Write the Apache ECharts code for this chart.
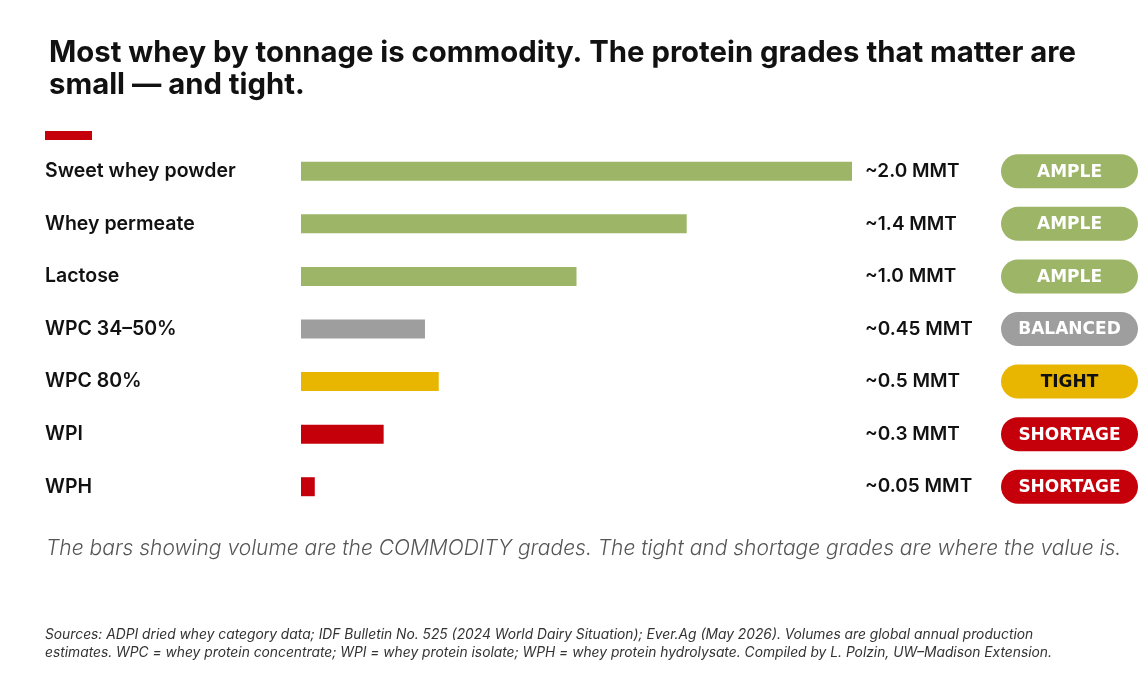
<!DOCTYPE html>
<html>
<head>
<meta charset="utf-8">
<script src="https://cdn.jsdelivr.net/npm/echarts@6/dist/echarts.min.js"></script>
<style>
  html, body { margin: 0; padding: 0; background: #fff; }
  #chart { width: 1148px; height: 678px; }
</style>
</head>
<body>
<div id="chart"></div>
<script>
// data
const categories = ["Sweet whey powder", "Whey permeate", "Lactose", "WPC 34–50%", "WPC 80%", "WPI", "WPH"];
const volumes = [2.0, 1.4, 1.0, 0.45, 0.5, 0.3, 0.05];
const volumeLabels = ["~2.0 MMT", "~1.4 MMT", "~1.0 MMT", "~0.45 MMT", "~0.5 MMT", "~0.3 MMT", "~0.05 MMT"];
const statuses = ["AMPLE", "AMPLE", "AMPLE", "BALANCED", "TIGHT", "SHORTAGE", "SHORTAGE"];
const xMax = 2.0;

const statusColors = {
  AMPLE: "#9cb566",
  BALANCED: "#9e9e9e",
  TIGHT: "#e8b600",
  SHORTAGE: "#c5000b"
};
const statusText = {
  AMPLE: "#ffffff",
  BALANCED: "#ffffff",
  TIGHT: "#111111",
  SHORTAGE: "#ffffff"
};

const font = "Inter, 'Noto Sans', sans-serif";

let chart = echarts.init(document.getElementById("chart"));

let option = {
  backgroundColor: "#ffffff",
  animation: false,
  title: {
    text: "Most whey by tonnage is commodity. The protein grades that matter are\nsmall — and tight.",
    left: 44,
    top: 32,
    textStyle: {
      fontFamily: font,
      fontSize: 29.3,
      fontWeight: "bold",
      color: "#111111",
      lineHeight: 32
    }
  },
  grid: {
    left: 301,
    right: 296,
    top: 145,
    bottom: 165
  },
  xAxis: {
    type: "value",
    min: 0,
    max: xMax,
    show: false
  },
  yAxis: {
    type: "category",
    data: categories,
    inverse: true,
    axisLine: { show: false },
    axisTick: { show: false },
    splitLine: { show: false },
    axisLabel: {
      align: "left",
      margin: 256,
      fontFamily: font,
      fontSize: 19.5,
      fontWeight: 600,
      color: "#111111"
    }
  },
  series: [
    {
      type: "bar",
      barWidth: 19,
      data: volumes.map((v, i) => ({
        value: v,
        itemStyle: { color: statusColors[statuses[i]] }
      }))
    },
    {
      type: "custom",
      clip: false,
      data: statuses.map((s, i) => [xMax, i]),
      encode: { x: 0, y: 1 },
      renderItem: function (params, api) {
        let idx = params.dataIndex;
        let p = api.coord([api.value(0), api.value(1)]);
        let st = statuses[idx];
        let pillLeft = p[0] + 149;
        let pillW = 137;
        let pillH = 34;
        return {
          type: "group",
          children: [
            {
              type: "text",
              style: {
                text: volumeLabels[idx],
                x: p[0] + 13,
                y: p[1],
                align: "left",
                verticalAlign: "middle",
                font: "600 19px " + font,
                fill: "#111111"
              }
            },
            {
              type: "rect",
              shape: { x: pillLeft, y: p[1] - pillH / 2, width: pillW, height: pillH, r: pillH / 2 },
              style: { fill: statusColors[st] }
            },
            {
              type: "text",
              style: {
                text: st,
                x: pillLeft + pillW / 2,
                y: p[1] + 1,
                align: "center",
                verticalAlign: "middle",
                font: "bold 17px 'DejaVu Sans', sans-serif",
                fill: statusText[st]
              }
            }
          ]
        };
      }
    }
  ],
  graphic: [
    {
      type: "rect",
      left: 45,
      top: 131,
      shape: { width: 47, height: 9 },
      style: { fill: "#c5000b" }
    },
    {
      type: "text",
      left: 46,
      top: 538,
      style: {
        text: "The bars showing volume are the COMMODITY grades. The tight and shortage grades are where the value is.",
        font: "italic 300 21px " + font,
        fill: "#555555"
      }
    },
    {
      type: "text",
      left: 45,
      top: 626,
      style: {
        text: "Sources: ADPI dried whey category data; IDF Bulletin No. 525 (2024 World Dairy Situation); Ever.Ag (May 2026). Volumes are global annual production\nestimates. WPC = whey protein concentrate; WPI = whey protein isolate; WPH = whey protein hydrolysate. Compiled by L. Polzin, UW–Madison Extension.",
        font: "italic 13.8px " + font,
        lineHeight: 18,
        fill: "#333333"
      }
    }
  ]
};

chart.setOption(option);

window.addEventListener("resize", () => {
  chart.resize();
});
</script>
</body>
</html>
